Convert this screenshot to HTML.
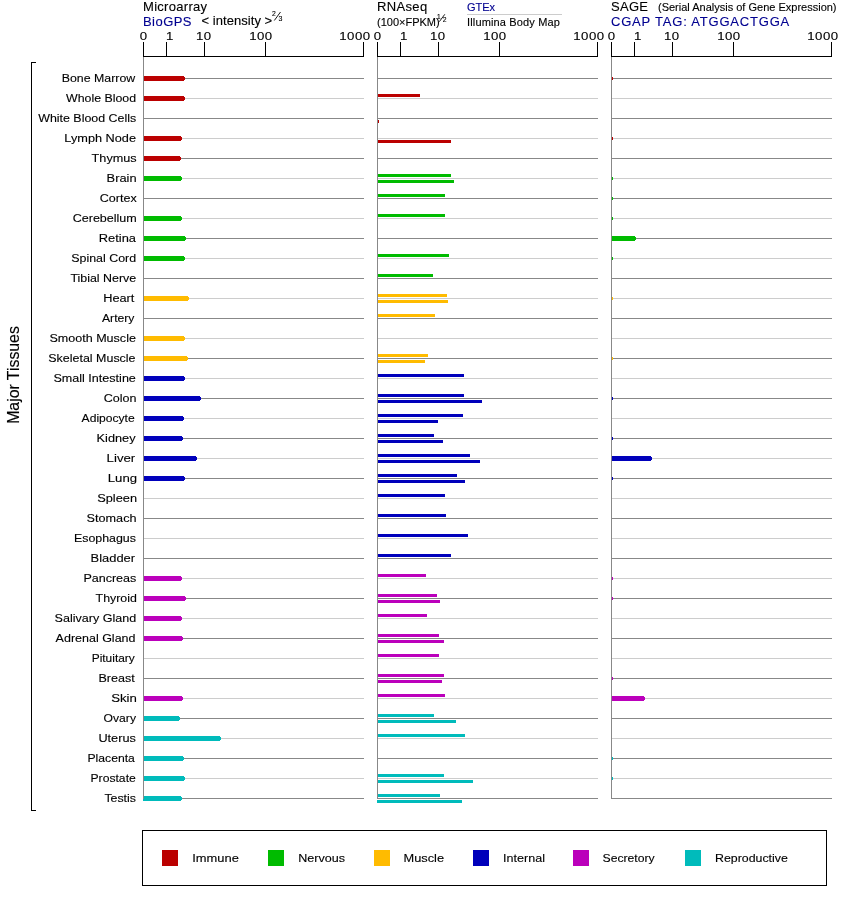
<!DOCTYPE html><html><head><meta charset="utf-8"><style>html,body{margin:0;padding:0;background:#fff;width:842px;height:900px;overflow:hidden}svg{display:block;will-change:transform}text{font-family:"Liberation Sans",sans-serif;fill:#000;stroke:#000;stroke-width:0.12px}text.b{fill:#000090;stroke:#000090}</style></head><body>
<svg width="842" height="900" viewBox="0 0 842 900">
<rect x="0" y="0" width="842" height="900" fill="#fff"/>
<g shape-rendering="crispEdges">
<rect x="143" y="78" width="221" height="1" fill="#888888"/>
<rect x="377" y="78" width="221" height="1" fill="#888888"/>
<rect x="611" y="78" width="221" height="1" fill="#888888"/>
<rect x="143" y="98" width="221" height="1" fill="#cccccc"/>
<rect x="377" y="98" width="221" height="1" fill="#cccccc"/>
<rect x="611" y="98" width="221" height="1" fill="#cccccc"/>
<rect x="143" y="118" width="221" height="1" fill="#888888"/>
<rect x="377" y="118" width="221" height="1" fill="#888888"/>
<rect x="611" y="118" width="221" height="1" fill="#888888"/>
<rect x="143" y="138" width="221" height="1" fill="#cccccc"/>
<rect x="377" y="138" width="221" height="1" fill="#cccccc"/>
<rect x="611" y="138" width="221" height="1" fill="#cccccc"/>
<rect x="143" y="158" width="221" height="1" fill="#888888"/>
<rect x="377" y="158" width="221" height="1" fill="#888888"/>
<rect x="611" y="158" width="221" height="1" fill="#888888"/>
<rect x="143" y="178" width="221" height="1" fill="#cccccc"/>
<rect x="377" y="178" width="221" height="1" fill="#cccccc"/>
<rect x="611" y="178" width="221" height="1" fill="#cccccc"/>
<rect x="143" y="198" width="221" height="1" fill="#888888"/>
<rect x="377" y="198" width="221" height="1" fill="#888888"/>
<rect x="611" y="198" width="221" height="1" fill="#888888"/>
<rect x="143" y="218" width="221" height="1" fill="#cccccc"/>
<rect x="377" y="218" width="221" height="1" fill="#cccccc"/>
<rect x="611" y="218" width="221" height="1" fill="#cccccc"/>
<rect x="143" y="238" width="221" height="1" fill="#888888"/>
<rect x="377" y="238" width="221" height="1" fill="#888888"/>
<rect x="611" y="238" width="221" height="1" fill="#888888"/>
<rect x="143" y="258" width="221" height="1" fill="#cccccc"/>
<rect x="377" y="258" width="221" height="1" fill="#cccccc"/>
<rect x="611" y="258" width="221" height="1" fill="#cccccc"/>
<rect x="143" y="278" width="221" height="1" fill="#888888"/>
<rect x="377" y="278" width="221" height="1" fill="#888888"/>
<rect x="611" y="278" width="221" height="1" fill="#888888"/>
<rect x="143" y="298" width="221" height="1" fill="#cccccc"/>
<rect x="377" y="298" width="221" height="1" fill="#cccccc"/>
<rect x="611" y="298" width="221" height="1" fill="#cccccc"/>
<rect x="143" y="318" width="221" height="1" fill="#888888"/>
<rect x="377" y="318" width="221" height="1" fill="#888888"/>
<rect x="611" y="318" width="221" height="1" fill="#888888"/>
<rect x="143" y="338" width="221" height="1" fill="#cccccc"/>
<rect x="377" y="338" width="221" height="1" fill="#cccccc"/>
<rect x="611" y="338" width="221" height="1" fill="#cccccc"/>
<rect x="143" y="358" width="221" height="1" fill="#888888"/>
<rect x="377" y="358" width="221" height="1" fill="#888888"/>
<rect x="611" y="358" width="221" height="1" fill="#888888"/>
<rect x="143" y="378" width="221" height="1" fill="#cccccc"/>
<rect x="377" y="378" width="221" height="1" fill="#cccccc"/>
<rect x="611" y="378" width="221" height="1" fill="#cccccc"/>
<rect x="143" y="398" width="221" height="1" fill="#888888"/>
<rect x="377" y="398" width="221" height="1" fill="#888888"/>
<rect x="611" y="398" width="221" height="1" fill="#888888"/>
<rect x="143" y="418" width="221" height="1" fill="#cccccc"/>
<rect x="377" y="418" width="221" height="1" fill="#cccccc"/>
<rect x="611" y="418" width="221" height="1" fill="#cccccc"/>
<rect x="143" y="438" width="221" height="1" fill="#888888"/>
<rect x="377" y="438" width="221" height="1" fill="#888888"/>
<rect x="611" y="438" width="221" height="1" fill="#888888"/>
<rect x="143" y="458" width="221" height="1" fill="#cccccc"/>
<rect x="377" y="458" width="221" height="1" fill="#cccccc"/>
<rect x="611" y="458" width="221" height="1" fill="#cccccc"/>
<rect x="143" y="478" width="221" height="1" fill="#888888"/>
<rect x="377" y="478" width="221" height="1" fill="#888888"/>
<rect x="611" y="478" width="221" height="1" fill="#888888"/>
<rect x="143" y="498" width="221" height="1" fill="#cccccc"/>
<rect x="377" y="498" width="221" height="1" fill="#cccccc"/>
<rect x="611" y="498" width="221" height="1" fill="#cccccc"/>
<rect x="143" y="518" width="221" height="1" fill="#888888"/>
<rect x="377" y="518" width="221" height="1" fill="#888888"/>
<rect x="611" y="518" width="221" height="1" fill="#888888"/>
<rect x="143" y="538" width="221" height="1" fill="#cccccc"/>
<rect x="377" y="538" width="221" height="1" fill="#cccccc"/>
<rect x="611" y="538" width="221" height="1" fill="#cccccc"/>
<rect x="143" y="558" width="221" height="1" fill="#888888"/>
<rect x="377" y="558" width="221" height="1" fill="#888888"/>
<rect x="611" y="558" width="221" height="1" fill="#888888"/>
<rect x="143" y="578" width="221" height="1" fill="#cccccc"/>
<rect x="377" y="578" width="221" height="1" fill="#cccccc"/>
<rect x="611" y="578" width="221" height="1" fill="#cccccc"/>
<rect x="143" y="598" width="221" height="1" fill="#888888"/>
<rect x="377" y="598" width="221" height="1" fill="#888888"/>
<rect x="611" y="598" width="221" height="1" fill="#888888"/>
<rect x="143" y="618" width="221" height="1" fill="#cccccc"/>
<rect x="377" y="618" width="221" height="1" fill="#cccccc"/>
<rect x="611" y="618" width="221" height="1" fill="#cccccc"/>
<rect x="143" y="638" width="221" height="1" fill="#888888"/>
<rect x="377" y="638" width="221" height="1" fill="#888888"/>
<rect x="611" y="638" width="221" height="1" fill="#888888"/>
<rect x="143" y="658" width="221" height="1" fill="#cccccc"/>
<rect x="377" y="658" width="221" height="1" fill="#cccccc"/>
<rect x="611" y="658" width="221" height="1" fill="#cccccc"/>
<rect x="143" y="678" width="221" height="1" fill="#888888"/>
<rect x="377" y="678" width="221" height="1" fill="#888888"/>
<rect x="611" y="678" width="221" height="1" fill="#888888"/>
<rect x="143" y="698" width="221" height="1" fill="#cccccc"/>
<rect x="377" y="698" width="221" height="1" fill="#cccccc"/>
<rect x="611" y="698" width="221" height="1" fill="#cccccc"/>
<rect x="143" y="718" width="221" height="1" fill="#888888"/>
<rect x="377" y="718" width="221" height="1" fill="#888888"/>
<rect x="611" y="718" width="221" height="1" fill="#888888"/>
<rect x="143" y="738" width="221" height="1" fill="#cccccc"/>
<rect x="377" y="738" width="221" height="1" fill="#cccccc"/>
<rect x="611" y="738" width="221" height="1" fill="#cccccc"/>
<rect x="143" y="758" width="221" height="1" fill="#888888"/>
<rect x="377" y="758" width="221" height="1" fill="#888888"/>
<rect x="611" y="758" width="221" height="1" fill="#888888"/>
<rect x="143" y="778" width="221" height="1" fill="#cccccc"/>
<rect x="377" y="778" width="221" height="1" fill="#cccccc"/>
<rect x="611" y="778" width="221" height="1" fill="#cccccc"/>
<rect x="143" y="798" width="221" height="1" fill="#888888"/>
<rect x="377" y="798" width="221" height="1" fill="#888888"/>
<rect x="611" y="798" width="221" height="1" fill="#888888"/>
<rect x="143" y="56" width="221" height="1" fill="#000"/>
<rect x="143" y="42" width="1" height="15" fill="#000"/>
<rect x="166" y="42" width="1" height="15" fill="#000"/>
<rect x="204" y="42" width="1" height="15" fill="#000"/>
<rect x="265" y="42" width="1" height="15" fill="#000"/>
<rect x="363" y="42" width="1" height="15" fill="#000"/>
<rect x="377" y="56" width="221" height="1" fill="#000"/>
<rect x="377" y="42" width="1" height="15" fill="#000"/>
<rect x="400" y="42" width="1" height="15" fill="#000"/>
<rect x="438" y="42" width="1" height="15" fill="#000"/>
<rect x="499" y="42" width="1" height="15" fill="#000"/>
<rect x="597" y="42" width="1" height="15" fill="#000"/>
<rect x="611" y="56" width="221" height="1" fill="#000"/>
<rect x="611" y="42" width="1" height="15" fill="#000"/>
<rect x="634" y="42" width="1" height="15" fill="#000"/>
<rect x="672" y="42" width="1" height="15" fill="#000"/>
<rect x="733" y="42" width="1" height="15" fill="#000"/>
<rect x="831" y="42" width="1" height="15" fill="#000"/>
<rect x="143" y="76" width="41" height="5" fill="#bb0000"/><rect x="184" y="77" width="1" height="3" fill="#bb0000"/>
<rect x="611" y="77" width="2" height="3" fill="#bb0000"/>
<rect x="143" y="96" width="41" height="5" fill="#bb0000"/><rect x="184" y="97" width="1" height="3" fill="#bb0000"/>
<rect x="377" y="94" width="43" height="3" fill="#bb0000"/>
<rect x="377" y="120" width="2" height="3" fill="#bb0000"/>
<rect x="143" y="136" width="38" height="5" fill="#bb0000"/><rect x="181" y="137" width="1" height="3" fill="#bb0000"/>
<rect x="377" y="140" width="74" height="3" fill="#bb0000"/>
<rect x="611" y="137" width="2" height="3" fill="#bb0000"/>
<rect x="143" y="156" width="37" height="5" fill="#bb0000"/><rect x="180" y="157" width="1" height="3" fill="#bb0000"/>
<rect x="143" y="176" width="38" height="5" fill="#00bb00"/><rect x="181" y="177" width="1" height="3" fill="#00bb00"/>
<rect x="377" y="174" width="74" height="3" fill="#00bb00"/>
<rect x="377" y="180" width="77" height="3" fill="#00bb00"/>
<rect x="611" y="177" width="2" height="3" fill="#00bb00"/>
<rect x="377" y="194" width="68" height="3" fill="#00bb00"/>
<rect x="611" y="197" width="2" height="3" fill="#00bb00"/>
<rect x="143" y="216" width="38" height="5" fill="#00bb00"/><rect x="181" y="217" width="1" height="3" fill="#00bb00"/>
<rect x="377" y="214" width="68" height="3" fill="#00bb00"/>
<rect x="611" y="217" width="2" height="3" fill="#00bb00"/>
<rect x="143" y="236" width="42" height="5" fill="#00bb00"/><rect x="185" y="237" width="1" height="3" fill="#00bb00"/>
<rect x="611" y="236" width="24" height="5" fill="#00bb00"/><rect x="635" y="237" width="1" height="3" fill="#00bb00"/>
<rect x="143" y="256" width="41" height="5" fill="#00bb00"/><rect x="184" y="257" width="1" height="3" fill="#00bb00"/>
<rect x="377" y="254" width="72" height="3" fill="#00bb00"/>
<rect x="611" y="257" width="2" height="3" fill="#00bb00"/>
<rect x="377" y="274" width="56" height="3" fill="#00bb00"/>
<rect x="143" y="296" width="45" height="5" fill="#ffbb00"/><rect x="188" y="297" width="1" height="3" fill="#ffbb00"/>
<rect x="377" y="294" width="70" height="3" fill="#ffbb00"/>
<rect x="377" y="300" width="71" height="3" fill="#ffbb00"/>
<rect x="611" y="297" width="2" height="3" fill="#ffbb00"/>
<rect x="377" y="314" width="58" height="3" fill="#ffbb00"/>
<rect x="143" y="336" width="41" height="5" fill="#ffbb00"/><rect x="184" y="337" width="1" height="3" fill="#ffbb00"/>
<rect x="143" y="356" width="44" height="5" fill="#ffbb00"/><rect x="187" y="357" width="1" height="3" fill="#ffbb00"/>
<rect x="377" y="354" width="51" height="3" fill="#ffbb00"/>
<rect x="377" y="360" width="48" height="3" fill="#ffbb00"/>
<rect x="611" y="357" width="2" height="3" fill="#ffbb00"/>
<rect x="143" y="376" width="41" height="5" fill="#0000bb"/><rect x="184" y="377" width="1" height="3" fill="#0000bb"/>
<rect x="377" y="374" width="87" height="3" fill="#0000bb"/>
<rect x="143" y="396" width="57" height="5" fill="#0000bb"/><rect x="200" y="397" width="1" height="3" fill="#0000bb"/>
<rect x="377" y="394" width="87" height="3" fill="#0000bb"/>
<rect x="377" y="400" width="105" height="3" fill="#0000bb"/>
<rect x="611" y="397" width="2" height="3" fill="#0000bb"/>
<rect x="143" y="416" width="40" height="5" fill="#0000bb"/><rect x="183" y="417" width="1" height="3" fill="#0000bb"/>
<rect x="377" y="414" width="86" height="3" fill="#0000bb"/>
<rect x="377" y="420" width="61" height="3" fill="#0000bb"/>
<rect x="143" y="436" width="39" height="5" fill="#0000bb"/><rect x="182" y="437" width="1" height="3" fill="#0000bb"/>
<rect x="377" y="434" width="57" height="3" fill="#0000bb"/>
<rect x="377" y="440" width="66" height="3" fill="#0000bb"/>
<rect x="611" y="437" width="2" height="3" fill="#0000bb"/>
<rect x="143" y="456" width="53" height="5" fill="#0000bb"/><rect x="196" y="457" width="1" height="3" fill="#0000bb"/>
<rect x="377" y="454" width="93" height="3" fill="#0000bb"/>
<rect x="377" y="460" width="103" height="3" fill="#0000bb"/>
<rect x="611" y="456" width="40" height="5" fill="#0000bb"/><rect x="651" y="457" width="1" height="3" fill="#0000bb"/>
<rect x="143" y="476" width="41" height="5" fill="#0000bb"/><rect x="184" y="477" width="1" height="3" fill="#0000bb"/>
<rect x="377" y="474" width="80" height="3" fill="#0000bb"/>
<rect x="377" y="480" width="88" height="3" fill="#0000bb"/>
<rect x="611" y="477" width="2" height="3" fill="#0000bb"/>
<rect x="377" y="494" width="68" height="3" fill="#0000bb"/>
<rect x="377" y="514" width="69" height="3" fill="#0000bb"/>
<rect x="377" y="534" width="91" height="3" fill="#0000bb"/>
<rect x="377" y="554" width="74" height="3" fill="#0000bb"/>
<rect x="143" y="576" width="38" height="5" fill="#bb00bb"/><rect x="181" y="577" width="1" height="3" fill="#bb00bb"/>
<rect x="377" y="574" width="49" height="3" fill="#bb00bb"/>
<rect x="611" y="577" width="2" height="3" fill="#bb00bb"/>
<rect x="143" y="596" width="42" height="5" fill="#bb00bb"/><rect x="185" y="597" width="1" height="3" fill="#bb00bb"/>
<rect x="377" y="594" width="60" height="3" fill="#bb00bb"/>
<rect x="377" y="600" width="63" height="3" fill="#bb00bb"/>
<rect x="611" y="597" width="2" height="3" fill="#bb00bb"/>
<rect x="143" y="616" width="38" height="5" fill="#bb00bb"/><rect x="181" y="617" width="1" height="3" fill="#bb00bb"/>
<rect x="377" y="614" width="50" height="3" fill="#bb00bb"/>
<rect x="143" y="636" width="39" height="5" fill="#bb00bb"/><rect x="182" y="637" width="1" height="3" fill="#bb00bb"/>
<rect x="377" y="634" width="62" height="3" fill="#bb00bb"/>
<rect x="377" y="640" width="67" height="3" fill="#bb00bb"/>
<rect x="377" y="654" width="62" height="3" fill="#bb00bb"/>
<rect x="377" y="674" width="67" height="3" fill="#bb00bb"/>
<rect x="377" y="680" width="65" height="3" fill="#bb00bb"/>
<rect x="611" y="677" width="2" height="3" fill="#bb00bb"/>
<rect x="143" y="696" width="39" height="5" fill="#bb00bb"/><rect x="182" y="697" width="1" height="3" fill="#bb00bb"/>
<rect x="377" y="694" width="68" height="3" fill="#bb00bb"/>
<rect x="611" y="696" width="33" height="5" fill="#bb00bb"/><rect x="644" y="697" width="1" height="3" fill="#bb00bb"/>
<rect x="143" y="716" width="36" height="5" fill="#00bbbb"/><rect x="179" y="717" width="1" height="3" fill="#00bbbb"/>
<rect x="377" y="714" width="57" height="3" fill="#00bbbb"/>
<rect x="377" y="720" width="79" height="3" fill="#00bbbb"/>
<rect x="143" y="736" width="77" height="5" fill="#00bbbb"/><rect x="220" y="737" width="1" height="3" fill="#00bbbb"/>
<rect x="377" y="734" width="88" height="3" fill="#00bbbb"/>
<rect x="143" y="756" width="40" height="5" fill="#00bbbb"/><rect x="183" y="757" width="1" height="3" fill="#00bbbb"/>
<rect x="611" y="757" width="2" height="3" fill="#00bbbb"/>
<rect x="143" y="776" width="41" height="5" fill="#00bbbb"/><rect x="184" y="777" width="1" height="3" fill="#00bbbb"/>
<rect x="377" y="774" width="67" height="3" fill="#00bbbb"/>
<rect x="377" y="780" width="96" height="3" fill="#00bbbb"/>
<rect x="611" y="777" width="2" height="3" fill="#00bbbb"/>
<rect x="143" y="796" width="38" height="5" fill="#00bbbb"/><rect x="181" y="797" width="1" height="3" fill="#00bbbb"/>
<rect x="377" y="794" width="63" height="3" fill="#00bbbb"/>
<rect x="377" y="800" width="85" height="3" fill="#00bbbb"/>
<rect x="143" y="57" width="1" height="742" fill="#888888"/>
<rect x="377" y="57" width="1" height="742" fill="#888888"/>
<rect x="611" y="57" width="1" height="742" fill="#888888"/>
<rect x="31" y="62" width="1" height="749" fill="#000"/><rect x="31" y="62" width="5" height="1" fill="#000"/><rect x="31" y="810" width="5" height="1" fill="#000"/>
<rect x="142.5" y="830.5" width="684" height="55" fill="none" stroke="#000" stroke-width="1"/>
<rect x="162" y="850" width="16" height="16" fill="#bb0000"/>
<rect x="268" y="850" width="16" height="16" fill="#00bb00"/>
<rect x="374" y="850" width="16" height="16" fill="#ffbb00"/>
<rect x="473" y="850" width="16" height="16" fill="#0000bb"/>
<rect x="573" y="850" width="16" height="16" fill="#bb00bb"/>
<rect x="685" y="850" width="16" height="16" fill="#00bbbb"/>
</g>
<text transform="translate(192.2,862) scale(1.125,1)" font-size="11.5">Immune</text>
<text transform="translate(298.2,862) scale(1.095,1)" font-size="11.5">Nervous</text>
<text transform="translate(403.5,862) scale(1.114,1)" font-size="11.5">Muscle</text>
<text transform="translate(503,862) scale(1.095,1)" font-size="11.5">Internal</text>
<text transform="translate(602.5,862) scale(1.061,1)" font-size="11.5">Secretory</text>
<text transform="translate(715,862) scale(1.076,1)" font-size="11.5">Reproductive</text>
<text transform="translate(61.7,82) scale(1.0755,1)" font-size="11.5">Bone Marrow</text>
<text transform="translate(66.0,102) scale(1.0753,1)" font-size="11.5">Whole Blood</text>
<text transform="translate(38.2,122) scale(1.08,1)" font-size="11.5">White Blood Cells</text>
<text transform="translate(64.3,142) scale(1.1087,1)" font-size="11.5">Lymph Node</text>
<text transform="translate(91.6,162) scale(1.1028,1)" font-size="11.5">Thymus</text>
<text transform="translate(106.6,182) scale(1.1179,1)" font-size="11.5">Brain</text>
<text transform="translate(99.8,202) scale(1.0893,1)" font-size="11.5">Cortex</text>
<text transform="translate(72.7,222) scale(1.0905,1)" font-size="11.5">Cerebellum</text>
<text transform="translate(98.8,242) scale(1.1213,1)" font-size="11.5">Retina</text>
<text transform="translate(71.2,262) scale(1.0818,1)" font-size="11.5">Spinal Cord</text>
<text transform="translate(70.4,282) scale(1.08,1)" font-size="11.5">Tibial Nerve</text>
<text transform="translate(103.2,302) scale(1.1101,1)" font-size="11.5">Heart</text>
<text transform="translate(102.0,322) scale(1.0599,1)" font-size="11.5">Artery</text>
<text transform="translate(49.4,342) scale(1.093,1)" font-size="11.5">Smooth Muscle</text>
<text transform="translate(48.3,362) scale(1.0838,1)" font-size="11.5">Skeletal Muscle</text>
<text transform="translate(53.4,382) scale(1.0937,1)" font-size="11.5">Small Intestine</text>
<text transform="translate(103.8,402) scale(1.0905,1)" font-size="11.5">Colon</text>
<text transform="translate(81.6,422) scale(1.0517,1)" font-size="11.5">Adipocyte</text>
<text transform="translate(96.6,442) scale(1.1073,1)" font-size="11.5">Kidney</text>
<text transform="translate(106.6,462) scale(1.1493,1)" font-size="11.5">Liver</text>
<text transform="translate(107.7,482) scale(1.1493,1)" font-size="11.5">Lung</text>
<text transform="translate(97.2,502) scale(1.1133,1)" font-size="11.5">Spleen</text>
<text transform="translate(86.6,522) scale(1.1013,1)" font-size="11.5">Stomach</text>
<text transform="translate(73.9,542) scale(1.08,1)" font-size="11.5">Esophagus</text>
<text transform="translate(90.6,562) scale(1.1222,1)" font-size="11.5">Bladder</text>
<text transform="translate(83.4,582) scale(1.0909,1)" font-size="11.5">Pancreas</text>
<text transform="translate(95.6,602) scale(1.0775,1)" font-size="11.5">Thyroid</text>
<text transform="translate(54.6,622) scale(1.0925,1)" font-size="11.5">Salivary Gland</text>
<text transform="translate(55.6,642) scale(1.0883,1)" font-size="11.5">Adrenal Gland</text>
<text transform="translate(91.7,662) scale(1.0373,1)" font-size="11.5">Pituitary</text>
<text transform="translate(98.4,682) scale(1.0928,1)" font-size="11.5">Breast</text>
<text transform="translate(111.2,702) scale(1.1499,1)" font-size="11.5">Skin</text>
<text transform="translate(103.6,722) scale(1.0564,1)" font-size="11.5">Ovary</text>
<text transform="translate(98.4,742) scale(1.1058,1)" font-size="11.5">Uterus</text>
<text transform="translate(87.5,762) scale(1.059,1)" font-size="11.5">Placenta</text>
<text transform="translate(90.5,782) scale(1.0581,1)" font-size="11.5">Prostate</text>
<text transform="translate(104.4,802) scale(1.0734,1)" font-size="11.5">Testis</text>
<text transform="translate(139.7,40) scale(1.15,1)" font-size="11.5" letter-spacing="0.4">0</text>
<text transform="translate(166,40) scale(1.15,1)" font-size="11.5" letter-spacing="0.4">1</text>
<text transform="translate(196,40) scale(1.15,1)" font-size="11.5" letter-spacing="0.4">10</text>
<text transform="translate(249.2,40) scale(1.15,1)" font-size="11.5" letter-spacing="0.4">100</text>
<text transform="translate(339.3,40) scale(1.15,1)" font-size="11.5" letter-spacing="0.4">1000</text>
<text transform="translate(373.7,40) scale(1.15,1)" font-size="11.5" letter-spacing="0.4">0</text>
<text transform="translate(400,40) scale(1.15,1)" font-size="11.5" letter-spacing="0.4">1</text>
<text transform="translate(430,40) scale(1.15,1)" font-size="11.5" letter-spacing="0.4">10</text>
<text transform="translate(483.2,40) scale(1.15,1)" font-size="11.5" letter-spacing="0.4">100</text>
<text transform="translate(573.3,40) scale(1.15,1)" font-size="11.5" letter-spacing="0.4">1000</text>
<text transform="translate(607.7,40) scale(1.15,1)" font-size="11.5" letter-spacing="0.4">0</text>
<text transform="translate(634,40) scale(1.15,1)" font-size="11.5" letter-spacing="0.4">1</text>
<text transform="translate(664,40) scale(1.15,1)" font-size="11.5" letter-spacing="0.4">10</text>
<text transform="translate(717.2,40) scale(1.15,1)" font-size="11.5" letter-spacing="0.4">100</text>
<text transform="translate(807.3,40) scale(1.15,1)" font-size="11.5" letter-spacing="0.4">1000</text>
<text x="143" y="11" font-size="13" letter-spacing="0.3">Microarray</text>
<text x="143" y="26" font-size="13" letter-spacing="0.45" class="b">BioGPS</text>
<text x="201.5" y="25" font-size="13" letter-spacing="0.05">&lt; intensity &gt;</text>
<text x="272" y="16.4" font-size="6.8">2</text><line x1="274.3" y1="20.5" x2="280.5" y2="12" stroke="#000" stroke-width="0.9"/><text x="278.6" y="21" font-size="7">3</text>
<text x="377" y="11" font-size="13" letter-spacing="0.35">RNAseq</text>
<text x="377" y="26" font-size="11">(100×FPKM)</text>
<text x="437" y="18.6" font-size="6.6">1</text><line x1="439.3" y1="21.7" x2="444.8" y2="14.3" stroke="#000" stroke-width="0.9"/><text x="442.8" y="22.3" font-size="6.8">2</text>
<text x="467" y="10.5" font-size="11" class="b">GTEx</text>
<rect x="467" y="14" width="95" height="1" fill="#cccccc"/>
<text x="467" y="25.5" font-size="11" letter-spacing="0.15">Illumina Body Map</text>
<text x="611" y="11" font-size="13" letter-spacing="0.3">SAGE</text>
<text x="658" y="11" font-size="11">(Serial Analysis of Gene Expression)</text>
<text x="611" y="25.5" font-size="13" letter-spacing="0.8" class="b">CGAP TAG: ATGGACTGGA</text>
<text x="0" y="0" font-size="16" text-anchor="middle" transform="translate(19,375) rotate(-90) scale(0.99,1)">Major Tissues</text>
</svg></body></html>
